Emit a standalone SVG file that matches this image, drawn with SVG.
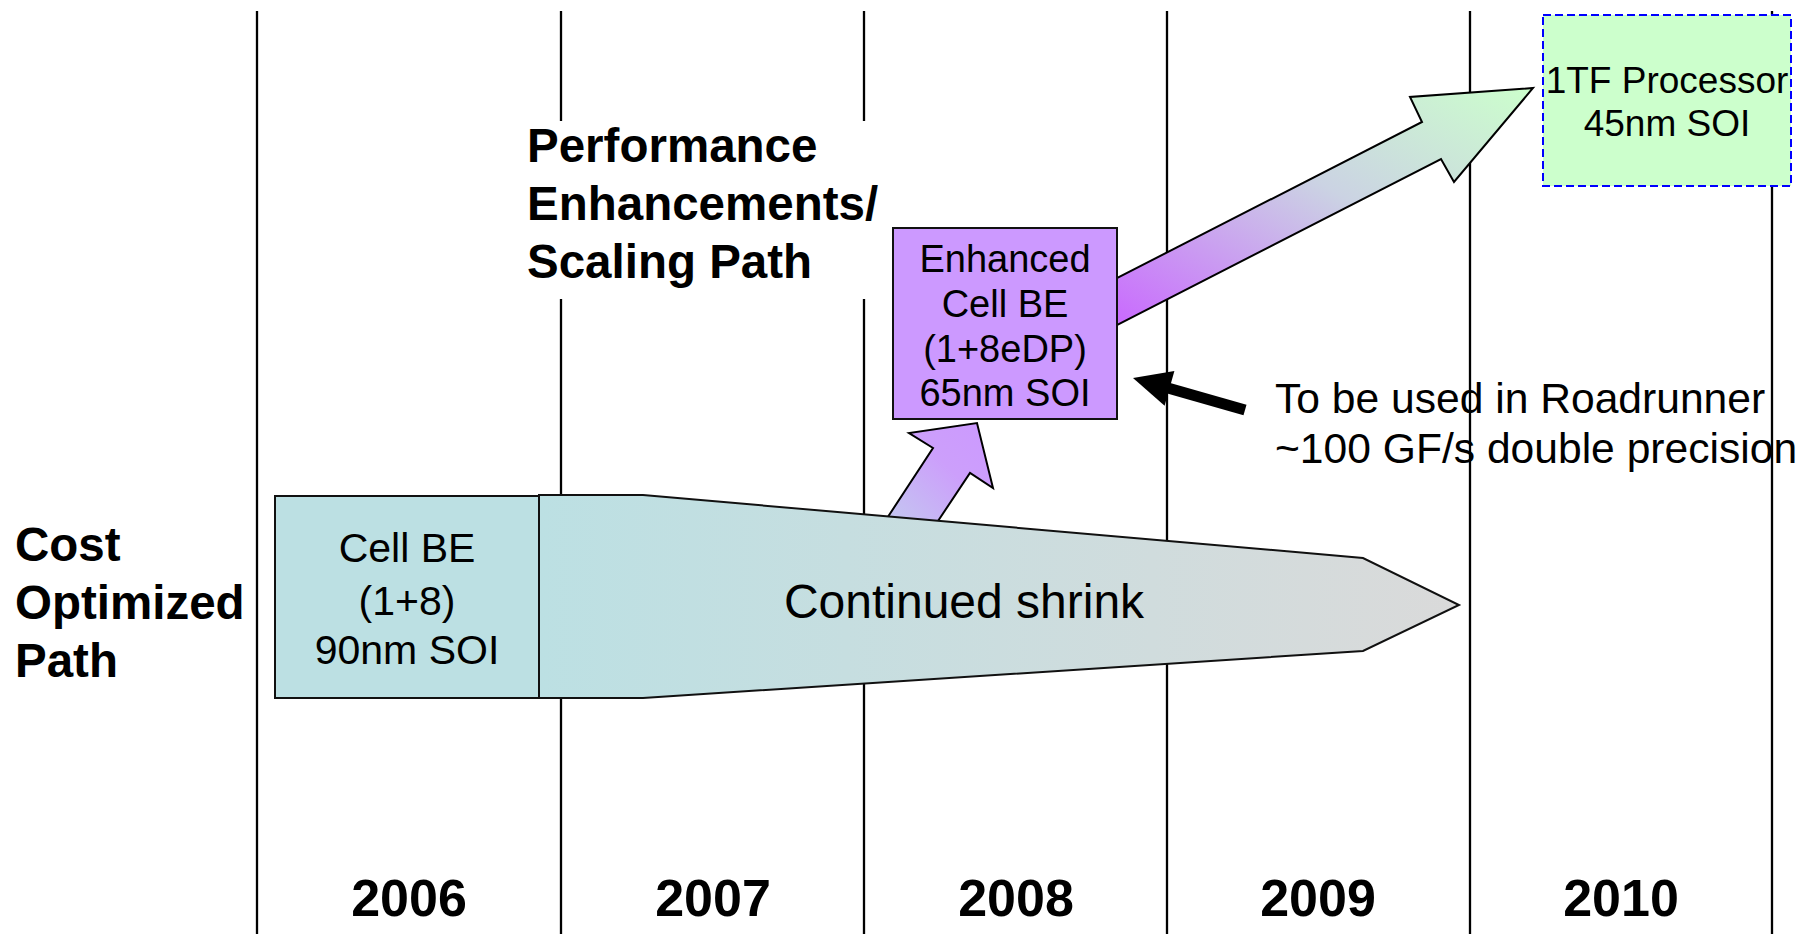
<svg xmlns="http://www.w3.org/2000/svg" width="1815" height="934" viewBox="0 0 1815 934">
<style>
.t{font-family:"Liberation Sans",Arial,sans-serif;fill:#000}
.b{font-weight:bold;font-size:47.5px}
.yr{font-weight:bold;font-size:52px;text-anchor:middle}
.vl{stroke:#000;stroke-width:2.3;fill:none}
.c{text-anchor:middle}
</style>
<defs>
<linearGradient id="gShrink" x1="0" y1="0" x2="1" y2="0">
<stop offset="0" stop-color="#BCE0E3"/>
<stop offset="1" stop-color="#DADADA"/>
</linearGradient>
<linearGradient id="gUp" x1="0" y1="1" x2="1" y2="0">
<stop offset="0" stop-color="#C2CEEE"/>
<stop offset="0.6" stop-color="#CC9FFB"/>
<stop offset="1" stop-color="#CC99FF"/>
</linearGradient>
<linearGradient id="gBig" x1="0" y1="1" x2="1" y2="0">
<stop offset="0" stop-color="#C966FF"/>
<stop offset="0.55" stop-color="#CBD3E3"/>
<stop offset="1" stop-color="#CCFFCC"/>
</linearGradient>
</defs>

<g id="gridlines">
<line class="vl" x1="257" y1="11" x2="257" y2="934"/>
<line class="vl" x1="561" y1="11" x2="561" y2="121"/>
<line class="vl" x1="561" y1="299" x2="561" y2="934"/>
<line class="vl" x1="864" y1="11" x2="864" y2="121"/>
<line class="vl" x1="864" y1="299" x2="864" y2="934"/>
<line class="vl" x1="1167" y1="11" x2="1167" y2="934"/>
<line class="vl" x1="1470" y1="11" x2="1470" y2="934"/>
<line class="vl" x1="1772" y1="11" x2="1772" y2="934"/>
</g>

<g id="labels">
<text class="t b" x="527" y="162">Performance</text>
<text class="t b" x="527" y="220">Enhancements/</text>
<text class="t b" x="527" y="278">Scaling Path</text>
<text class="t b" x="15" y="561">Cost</text>
<text class="t b" x="15" y="619">Optimized</text>
<text class="t b" x="15" y="677">Path</text>
<text class="t yr" x="409" y="916">2006</text>
<text class="t yr" x="713" y="916">2007</text>
<text class="t yr" x="1016" y="916">2008</text>
<text class="t yr" x="1318" y="916">2009</text>
<text class="t yr" x="1621" y="916">2010</text>
</g>

<g id="connectors">
<polygon id="upArrow" points="880,529 933,448 909,433 977,423 993,488 970,473 930,533" fill="url(#gUp)" stroke="#000" stroke-width="2" stroke-linejoin="miter"/>
<polygon id="bigArrow" points="1110,281.6 1422,122 1410,97 1533,88 1454,182 1441,159 1110,328.6" fill="url(#gBig)" stroke="#000" stroke-width="2"/>
<g id="pointer">
<line x1="1245" y1="410" x2="1167" y2="387.7" stroke="#000" stroke-width="11"/>
<polygon points="1133,378 1174.4,371.1 1164.6,405.7" fill="#000"/>
</g>
</g>

<g id="shrink">
<polygon points="539,495 643,495 1363,558 1459,605 1363,651 643,698 539,698" fill="url(#gShrink)" stroke="#111" stroke-width="2"/>
<text class="t c" x="964" y="618" font-size="48">Continued shrink</text>
</g>

<g id="cellBE">
<rect x="275" y="496" width="264" height="202" fill="#BCE0E3" stroke="#111" stroke-width="2"/>
<text class="t c" x="407" y="562" font-size="41">Cell BE</text>
<text class="t c" x="407" y="615" font-size="41">(1+8)</text>
<text class="t c" x="407" y="664" font-size="41">90nm SOI</text>
</g>

<g id="enhancedCellBE">
<rect x="893" y="228" width="224" height="191" fill="#CC99FF" stroke="#111" stroke-width="2"/>
<text class="t c" x="1005" y="272" font-size="38">Enhanced</text>
<text class="t c" x="1005" y="317" font-size="38">Cell BE</text>
<text class="t c" x="1005" y="362" font-size="38">(1+8eDP)</text>
<text class="t c" x="1005" y="406" font-size="38">65nm SOI</text>
</g>

<g id="tf1">
<rect x="1543" y="15" width="248" height="171" fill="#CCFFCC" stroke="#0000FF" stroke-width="2" stroke-dasharray="8,4"/>
<text class="t c" x="1667" y="93" font-size="37">1TF Processor</text>
<text class="t c" x="1667" y="136" font-size="37">45nm SOI</text>
</g>

<g id="roadrunnerNote">
<text class="t" x="1275" y="413" font-size="42.6">To be used in Roadrunner</text>
<text class="t" x="1275" y="463" font-size="42.6">~100 GF/s double precision</text>
</g>
</svg>
